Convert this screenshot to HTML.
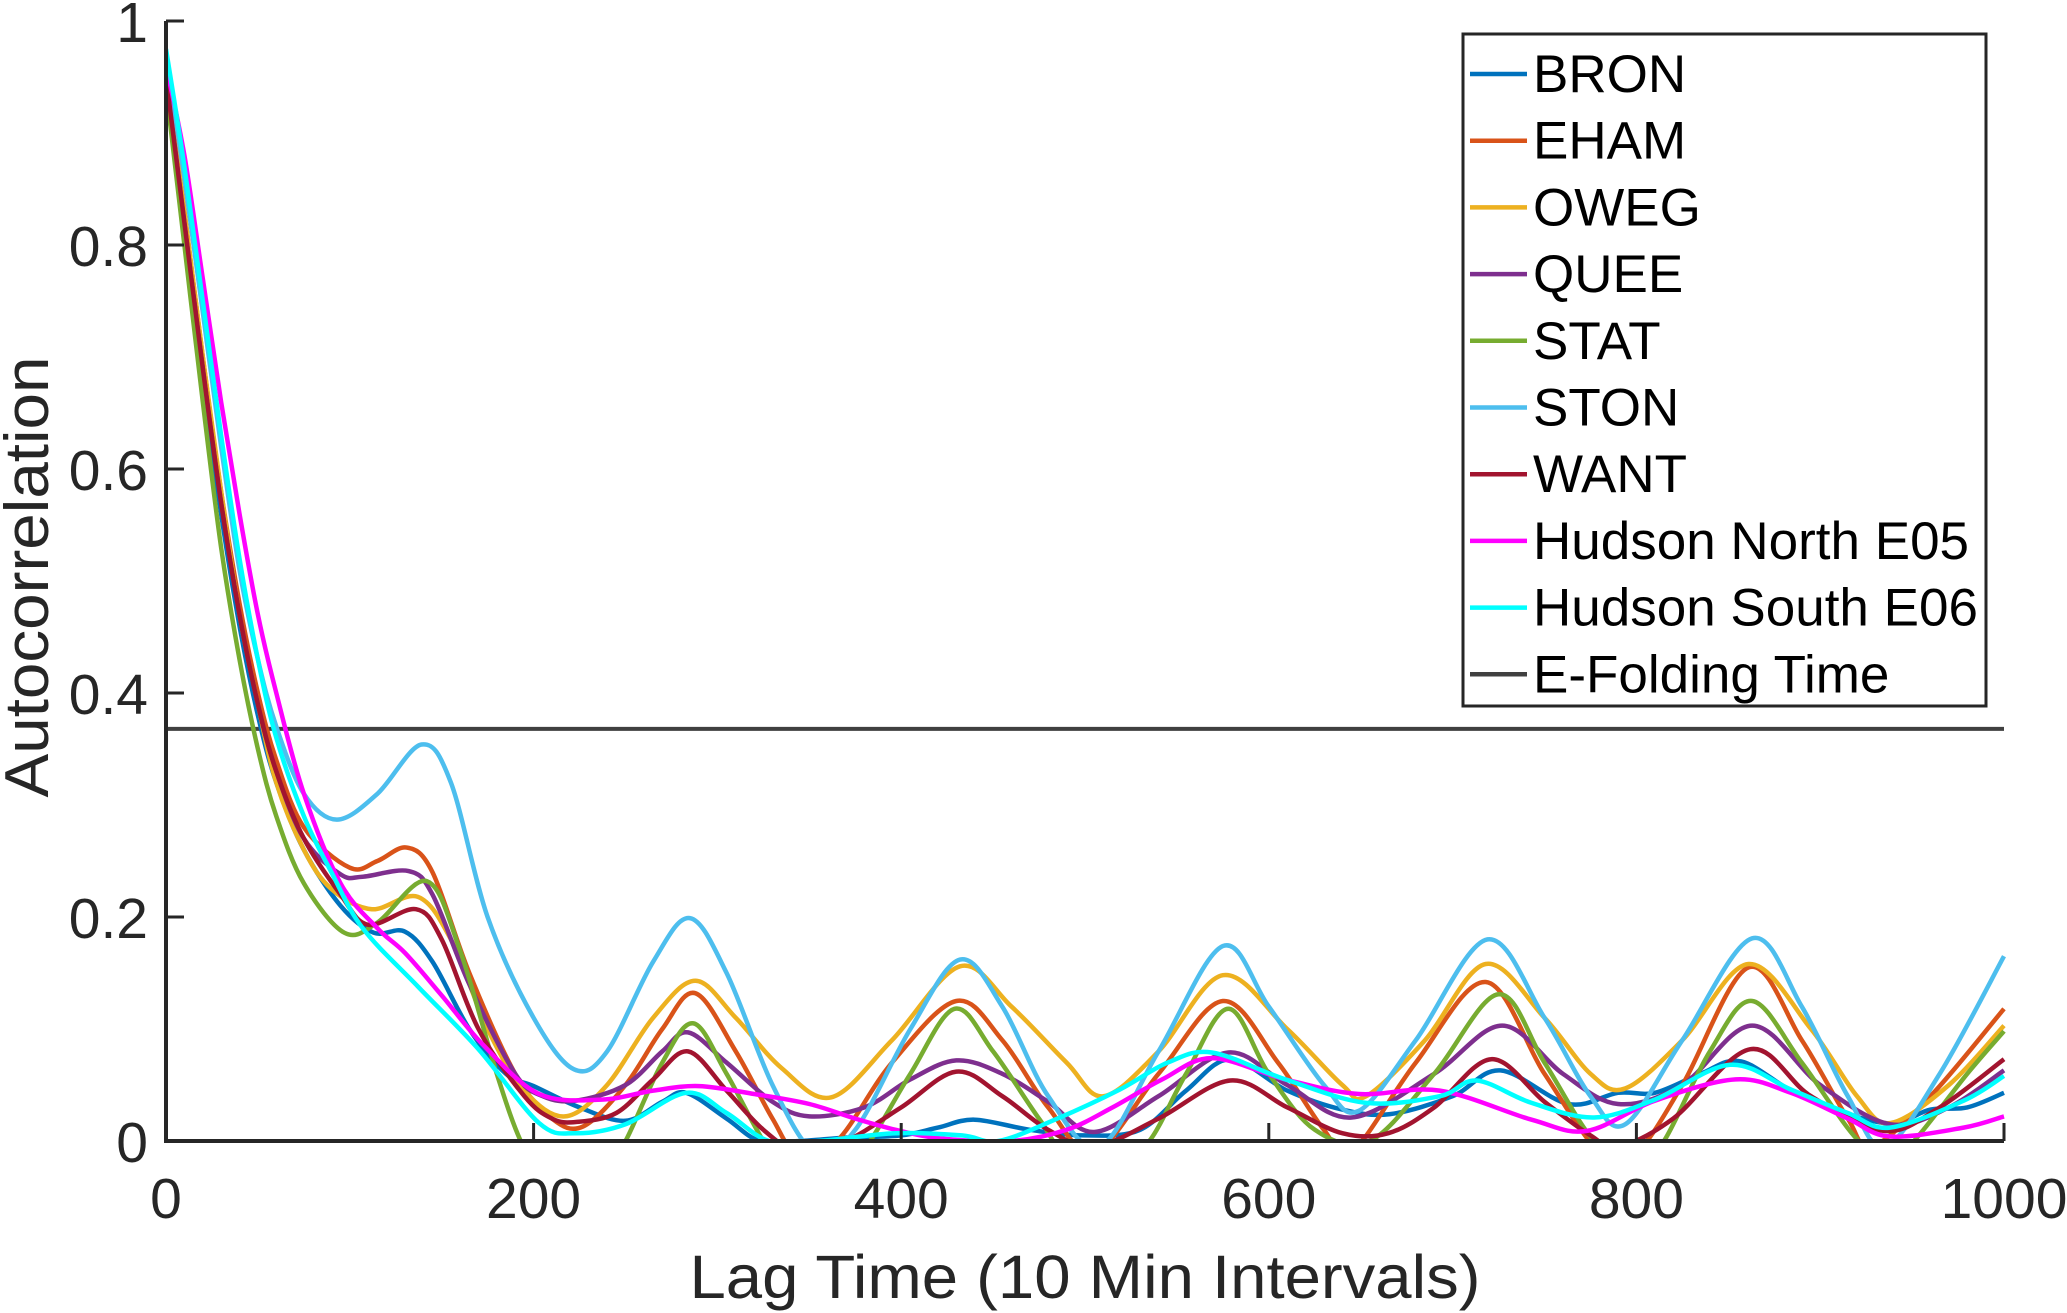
<!DOCTYPE html>
<html><head><meta charset="utf-8"><style>
html,body{margin:0;padding:0;background:#fff;}
svg{display:block;font-family:"Liberation Sans",Arial,sans-serif;}
</style></head><body>
<svg id="chart" width="2067" height="1313" viewBox="0 0 2067 1313" xmlns="http://www.w3.org/2000/svg">
<defs><clipPath id="plotclip"><rect x="166" y="10" width="1845" height="1131"/></clipPath></defs>
<g id="series" clip-path="url(#plotclip)"></g>
<g id="axes"></g>
<g id="legend"></g>
</svg>
<script>
const xTicks = [0, 200, 400, 600, 800, 1000];
const yTicks = [0, 0.2, 0.4, 0.6, 0.8, 1];
const yTickLabels = ["0", "0.2", "0.4", "0.6", "0.8", "1"];
const eFold = 0.368;
const seriesNames = ["BRON","EHAM","OWEG","QUEE","STAT","STON","WANT","Hudson North E05","Hudson South E06"];
const seriesColors = ["#0072BD","#D95319","#EDB120","#7E2F8E","#77AC30","#4DBEEE","#A2142F","#FF00FF","#00FFFF"];

const bronLag = [0,10,20,30,40,50,60,75,95,113,130,145,165,185,200,225,250,270,283,305,323,345,370,400,420,440,470,500,530,555,579,610,640,666,700,726,763,790,810,835,857,890,935,960,980,1000];
const bronVal = [.94,.81,.68,.56,.46,.38,.32,.26,.21,.186,.187,.16,.1,.06,.049,.03,.018,.035,.043,.02,0,0,.003,.005,.012,.019,.01,.005,.01,.045,.073,.045,.028,.024,.04,.063,.033,.043,.043,.06,.071,.04,.016,.028,.03,.043];
const ehamLag = [0,10,20,30,40,50,60,75,100,115,131,145,165,190,210,227,250,270,288,310,330,343,365,395,430,455,480,505,540,575,605,630,645,680,718,750,780,800,825,861,890,915,928,960,1000];
const ehamVal = [.95,.83,.7,.58,.48,.4,.34,.28,.244,.25,.262,.24,.15,.06,.02,.013,.05,.1,.132,.08,.02,-.01,0,.07,.125,.09,.03,-.01,.06,.125,.07,.01,-.01,.07,.142,.06,-.01,-.01,.05,.155,.09,.02,-.005,.04,.118];
const owegLag = [0,10,20,30,40,50,60,75,90,112,137,155,175,195,217,240,265,288,310,335,362,395,432,460,490,510,540,575,610,640,653,685,718,750,775,794,825,861,895,920,938,970,1000];
const owegVal = [.95,.83,.7,.58,.47,.39,.32,.26,.225,.207,.218,.18,.1,.045,.022,.05,.11,.143,.11,.065,.039,.09,.156,.12,.07,.04,.08,.148,.1,.05,.04,.09,.158,.11,.06,.047,.09,.158,.1,.04,.016,.05,.103];
const queeLag = [0,10,20,30,40,50,60,75,95,107,132,145,165,190,205,223,250,270,284,305,330,350,380,405,430,455,480,505,540,578,610,645,690,727,760,790,825,863,900,938,970,1000];
const queeVal = [.95,.82,.69,.57,.47,.39,.33,.27,.238,.236,.241,.22,.14,.06,.04,.036,.05,.08,.097,.07,.035,.022,.03,.055,.072,.06,.035,.008,.04,.079,.05,.021,.06,.103,.06,.033,.05,.103,.05,.015,.03,.063];
const statLag = [0,10,20,30,40,50,60,75,97,115,142,160,180,193,205,240,250,270,287,305,325,340,370,383,405,429,450,475,490,520,535,555,578,600,625,655,690,725,750,777,800,815,840,863,890,921,940,951,980,1000];
const statVal = [.94,.8,.66,.53,.43,.35,.29,.23,.186,.195,.232,.17,.06,0,-.03,-.02,0,.07,.105,.06,0,-.03,-.02,0,.06,.118,.08,.02,-.01,-.01,0,.06,.118,.06,.01,0,.06,.131,.07,0,-.02,0,.08,.125,.07,0,-.01,0,.06,.098];
const stonLag = [0,10,20,30,40,50,60,75,93,115,139,155,175,200,222,240,265,285,305,330,353,375,405,432,455,480,508,540,575,600,630,649,680,719,750,775,794,825,863,890,915,935,965,1000];
const stonVal = [.97,.86,.74,.62,.51,.43,.37,.31,.287,.31,.354,.32,.2,.11,.064,.08,.16,.199,.15,.05,-.01,.01,.1,.162,.12,.04,-.005,.08,.174,.12,.05,.027,.09,.18,.11,.04,.015,.09,.181,.12,.04,-.005,.06,.165];
const wantLag = [0,10,20,30,40,50,60,75,95,110,136,150,170,195,210,223,245,265,284,305,325,345,370,400,430,455,480,505,540,579,610,640,665,690,721,750,775,790,820,862,895,935,965,1000];
const wantVal = [.95,.82,.69,.57,.47,.39,.33,.27,.22,.193,.207,.18,.1,.04,.02,.017,.025,.055,.08,.045,.01,-.01,0,.03,.062,.04,.01,-.005,.02,.054,.03,.007,.007,.03,.073,.035,.005,-.005,.02,.082,.04,.009,.03,.073];
const hnLag = [0,10,20,30,40,50,60,75,95,115,130,150,173,203,237,265,290,320,350,375,397,423,460,490,515,542,569,609,649,693,743,773,810,854,884,915,938,978,1000];
const hnVal = [.96,.88,.77,.66,.56,.47,.4,.31,.23,.19,.168,.13,.085,.042,.037,.045,.049,.042,.033,.02,.01,.002,0,.01,.03,.055,.074,.055,.042,.045,.019,.009,.036,.055,.043,.02,.004,.012,.022];
const hsLag = [0,10,20,30,40,50,60,75,90,107,137,170,203,223,250,283,305,328,355,397,433,453,485,519,545,569,609,653,693,713,743,777,810,851,884,915,938,978,1000];
const hsVal = [.975,.87,.75,.63,.52,.43,.36,.29,.24,.19,.138,.082,.016,.007,.015,.043,.025,0,0,.007,.005,0,.02,.046,.07,.079,.055,.034,.04,.054,.034,.021,.037,.068,.046,.025,.012,.036,.058];

const allLags = [bronLag, ehamLag, owegLag, queeLag, statLag, stonLag, wantLag, hnLag, hsLag];
const allVals = [bronVal, ehamVal, owegVal, queeVal, statVal, stonVal, wantVal, hnVal, hsVal];

const X0 = 166, X1 = 2004, Y0 = 1141, Y1 = 21;
function xs(v){ return X0 + (v - 0) / 1000 * (X1 - X0); }
function ys(v){ return Y0 - v * (Y0 - Y1); }
const NS = "http://www.w3.org/2000/svg";
function mk(tag, attrs, parent){ const e = document.createElementNS(NS, tag); for (const k in attrs) e.setAttribute(k, attrs[k]); parent.appendChild(e); return e; }

function smoothPath(lags, vals){
  const p = lags.map((l,i)=>[xs(l), ys(vals[i])]);
  let d = "M" + p[0][0].toFixed(1) + "," + p[0][1].toFixed(1);
  for (let i = 0; i < p.length - 1; i++){
    const p0 = p[Math.max(0,i-1)], p1 = p[i], p2 = p[i+1], p3 = p[Math.min(p.length-1,i+2)];
    const t = 1/6;
    const c1 = [p1[0] + (p2[0]-p0[0])*t, p1[1] + (p2[1]-p0[1])*t];
    const c2 = [p2[0] - (p3[0]-p1[0])*t, p2[1] - (p3[1]-p1[1])*t];
    d += "C" + c1[0].toFixed(1)+","+c1[1].toFixed(1)+" "+c2[0].toFixed(1)+","+c2[1].toFixed(1)+" "+p2[0].toFixed(1)+","+p2[1].toFixed(1);
  }
  return d;
}

const sg = document.getElementById("series");
const ef = mk("line", {x1: xs(0), x2: xs(1000), y1: ys(eFold), y2: ys(eFold), stroke: "#404040", "stroke-width": 4}, sg);


for (let s = 0; s < allLags.length; s++){
  const path = mk("path", {d: smoothPath(allLags[s], allVals[s]), fill: "none", stroke: seriesColors[s], "stroke-width": 4.5, "stroke-linejoin": "round"}, sg);
  
  
}

const ax = document.getElementById("axes");
mk("path", {d: `M${X0},${Y1} V${Y0} H${X1}`, fill: "none", stroke: "#262626", "stroke-width": 4}, ax);
for (let i = 0; i < xTicks.length; i++){
  const x = xs(xTicks[i]);
  mk("line", {x1: x, x2: x, y1: Y0, y2: Y0 - 18, stroke: "#262626", "stroke-width": 3}, ax);
  const t = mk("text", {x: x, y: 1218, "font-size": 57, fill: "#262626", "text-anchor": "middle"}, ax);
  t.textContent = String(xTicks[i]);
  
  
}
for (let i = 0; i < yTicks.length; i++){
  const y = ys(yTicks[i]);
  mk("line", {x1: X0, x2: X0 + 18, y1: y, y2: y, stroke: "#262626", "stroke-width": 3}, ax);
  const t = mk("text", {x: 148, y: y + 21, "font-size": 57, fill: "#262626", "text-anchor": "end"}, ax);
  t.textContent = yTickLabels[i];
  
  
}
const xl = mk("text", {x: 1085, y: 1298, "font-size": 61, fill: "#262626", "text-anchor": "middle", textLength: 791, lengthAdjust: "spacingAndGlyphs"}, ax);
xl.textContent = "Lag Time (10 Min Intervals)";


const yl = mk("text", {x: 0, y: 0, "font-size": 62, fill: "#262626", "text-anchor": "middle", transform: "translate(48,577) rotate(-90)", textLength: 441, lengthAdjust: "spacingAndGlyphs"}, ax);
yl.textContent = "Autocorrelation";



const lg = document.getElementById("legend");
const lbox = mk("rect", {x: 1463, y: 34, width: 523, height: 672, fill: "#fff", stroke: "#262626", "stroke-width": 3}, lg);


const legNames = seriesNames.concat(["E-Folding Time"]);
const legColors = seriesColors.concat(["#404040"]);
for (let i = 0; i < legNames.length; i++){
  const y = 74 + i * 66.7;
  const ln = mk("line", {x1: 1470, x2: 1527, y1: y, y2: y, stroke: legColors[i], "stroke-width": 4.5}, lg);
  
  
  const t = mk("text", {x: 1533, y: y + 18, "font-size": 53, fill: "#000"}, lg);
  t.textContent = legNames[i];
  
  
}
</script>
</body></html>
